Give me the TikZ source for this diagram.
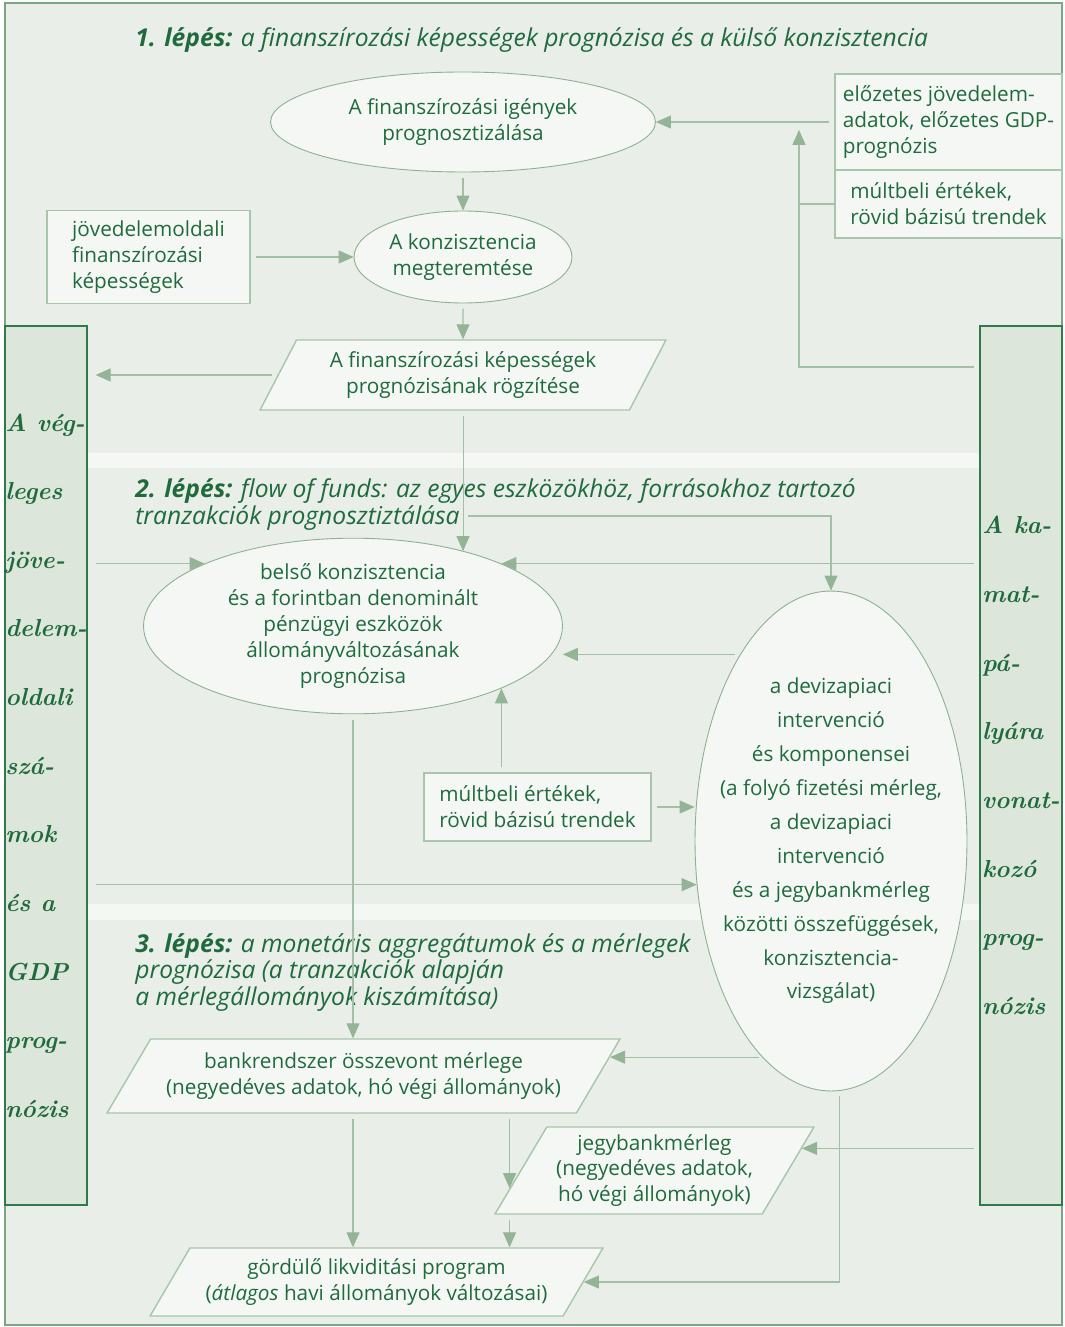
\documentclass[tikz,border=0pt]{standalone}
\usepackage{fontspec}
\setsansfont{Open Sans}
\usetikzlibrary{shapes.geometric,arrows.meta,calc}

\definecolor{bgc}{HTML}{E9EEE8}
\definecolor{bandc}{HTML}{F4F7F3}
\definecolor{nodefill}{HTML}{F4F7F3}
\definecolor{ellline}{HTML}{8DB092}
\definecolor{boxline}{HTML}{A9C5AC}
\definecolor{arrowc}{HTML}{A3BFA6}
\definecolor{tipc}{HTML}{93B497}
\definecolor{barfill}{HTML}{DCE6DB}
\definecolor{barline}{HTML}{2E7A4B}
\definecolor{txtc}{HTML}{1F6B3D}
\definecolor{framec}{HTML}{7AA686}

\begin{document}
\begin{tikzpicture}[x=0.02cm,y=-0.02cm,
    every node/.style={text=txtc,font=\sffamily\fontsize{11.8}{14.7}\selectfont},
    bubble/.style={ellipse,draw=ellline,line width=0.5pt,fill=nodefill,inner sep=0pt,align=center},
    databox/.style={rectangle,draw=boxline,line width=0.8pt,fill=nodefill,inner sep=0pt,align=left},
    slantbox/.style={trapezium,trapezium stretches body,draw=boxline,line width=0.8pt,fill=nodefill,inner sep=0pt,align=center},
    sidebar/.style={rectangle,draw=barline,line width=0.8pt,fill=barfill,inner sep=0pt,align=left,
      minimum width=1.64cm,minimum height=17.58cm,font=\rmfamily\bfseries\itshape\fontsize{14}{39.06}\selectfont},
    steptitle/.style={anchor=west,align=left,inner sep=0pt,font=\sffamily\itshape\fontsize{14}{15.3}\selectfont},
    flow/.style={draw=arrowc,line width=0.6pt,-{Triangle[length=3mm,width=2.6mm,color=tipc]},shorten <=3pt},
    link/.style={draw=arrowc,line width=0.6pt}]
    \useasboundingbox (0,0) rectangle (1064,1327);

    % background, step bands
    \fill[bgc] (5,3) rectangle (1062,1325);
    \fill[bandc] (87,453) rectangle (980,468);
    \fill[bandc] (87,904) rectangle (980,920);
    \draw[framec,line width=0.6pt] (5,3) rectangle (1062,1325);

    % side bars
    \node[sidebar] (lbar) at (46,765.5) {A vég-\\leges\\jöve-\\delem-\\oldali\\szá-\\mok\\és a\\GDP\\prog-\\nózis};
    \node[sidebar] (rbar) at (1021,765.5) {A ka-\\mat-\\pá-\\lyára\\vonat-\\kozó\\prog-\\nózis};

    % step titles
    \node[steptitle] (t1) at (135,40) {\textbf{1. lépés:} a finanszírozási képességek prognózisa és a külső konzisztencia};
    \node[steptitle] (t2) at (135,504.5) {\textbf{2. lépés:} flow of funds: az egyes eszközökhöz, forrásokhoz tartozó\\tranzakciók prognosztiztálása};
    \node[steptitle] (t3) at (135,972.5) {\textbf{3. lépés:} a monetáris aggregátumok és a mérlegek\\prognózisa (a tranzakciók alapján\\a mérlegállományok kiszámítása)};

    % step 1
    \node[bubble,minimum width=7.7cm,minimum height=2cm] (e1) at (463,122) {A finanszírozási igények\\prognosztizálása};
    \node[bubble,minimum width=4.36cm,minimum height=1.84cm] (e2) at (463,257) {A konzisztencia\\megteremtése};
    \node[databox,minimum width=4.06cm,minimum height=1.86cm] (jbox) at (148.5,257) {jövedelemoldali\\finanszírozási\\képességek};
    \node[databox,minimum width=4.54cm,minimum height=1.92cm] (pbox1) at (948.5,122) {előzetes jövedelem-\\adatok, előzetes GDP-\\prognózis};
    \node[databox,minimum width=4.54cm,minimum height=1.36cm] (pbox2) at (948.5,204) {múltbeli értékek,\\rövid bázisú trendek};
    \node[slantbox,trapezium left angle=52,trapezium right angle=128,minimum width=8.12cm,minimum height=1.4cm] (p1) at (463,375) {A finanszírozási képességek\\prognózisának rögzítése};

    % step 2
    \node[bubble,minimum width=8.38cm,minimum height=3.48cm] (e3) at (353,626) {belső konzisztencia\\és a forintban denominált\\pénzügyi eszközök\\állományváltozásának\\prognózisa};
    \node[bubble,inner xsep=-0.31cm,minimum width=5.44cm,minimum height=10cm,font=\sffamily\fontsize{11.8}{19.3}\selectfont] (e4) at (831,841) {a devizapiaci\\intervenció\\és komponensei\\(a folyó fizetési mérleg,\\a devizapiaci\\intervenció\\és a jegybankmérleg\\közötti összefüggések,\\konzisztencia-\\vizsgálat)};
    \node[databox,minimum width=4.54cm,minimum height=1.36cm] (mbox) at (537.5,807) {múltbeli értékek,\\rövid bázisú trendek};

    % step 3
    \node[slantbox,trapezium left angle=47,trapezium right angle=133,minimum width=10.26cm,minimum height=1.48cm] (bank) at (363.5,1076) {bankrendszer összevont mérlege\\(negyedéves adatok, hó végi állományok)};
    \node[slantbox,trapezium left angle=54.5,trapezium right angle=125.5,minimum width=6.38cm,minimum height=1.74cm] (jegy) at (654.5,1170.5) {jegybankmérleg\\(negyedéves adatok,\\hó végi állományok)};
    \node[slantbox,trapezium left angle=49.5,trapezium right angle=130.5,minimum width=9.06cm,minimum height=1.36cm] (gord) at (376.5,1282) {gördülő likviditási program\\(\textit{átlagos} havi állományok változásai)};

    % connectors
    \draw[flow] (e1) -- (e2);
    \draw[flow] (jbox) -- (e2);
    \draw[flow] (pbox1) -- (e1);
    \coordinate (k1) at (799,367);
    \draw[flow,shorten >=4.5pt] (rbar.west |- k1) -- (k1) -- (k1 |- pbox1.west);
    \draw[link] (pbox2.west) -- (pbox2.west -| k1);
    \draw[flow] (e2) -- (p1);
    \draw[flow,shorten >=4.5pt] (p1.west) -- (p1.west -| lbar.east);
    \draw[flow] (p1.south) -- (p1.south |- e3.34);
    \coordinate (k2) at ($(p1.south)!0.75!(p1.south |- e3.34)$);
    \draw[flow] (k2) -| (e4.north);
    \draw[flow] (rbar.west |- e3.north east) -- (e3.north east);
    \draw[flow,shorten <=4.5pt] (lbar.east |- e3.north west) -- (e3.north west);
    \draw[flow] (e4.116) -- (e4.116 -| e3.east);
    \draw[flow] (e3.south east |- mbox.north) -- (e3.south east);
    \draw[flow] (mbox) -- (mbox -| e4.west);
    \draw[flow,shorten <=4.5pt] (lbar.east |- e4.198) -- (e4.198);
    \draw[flow] (e3.south) -- (e3.south |- bank.north);
    \coordinate (bankR) at ($(bank.east)!0.5!(bank.top right corner)$);
    \draw[flow] (e4.253 |- bankR) -- (bankR);
    \draw[flow] (e4.272) |- (gord.east);
    \coordinate (jegyR) at ($(jegy.east)!0.5!(jegy.top right corner)$);
    \draw[flow] (rbar.west |- jegyR) -- (jegyR);
    \coordinate (jegyL) at ($(jegy.top left corner)!0.7!(jegy.bottom left corner)$);
    \draw[flow] (jegyL |- bank.south) -- (jegyL);
    \draw[flow] (jegyL |- jegy.south) -- (jegyL |- gord.north);
    \draw[flow] (e3.south |- bank.south) -- (e3.south |- gord.north);
\end{tikzpicture}
\end{document}
